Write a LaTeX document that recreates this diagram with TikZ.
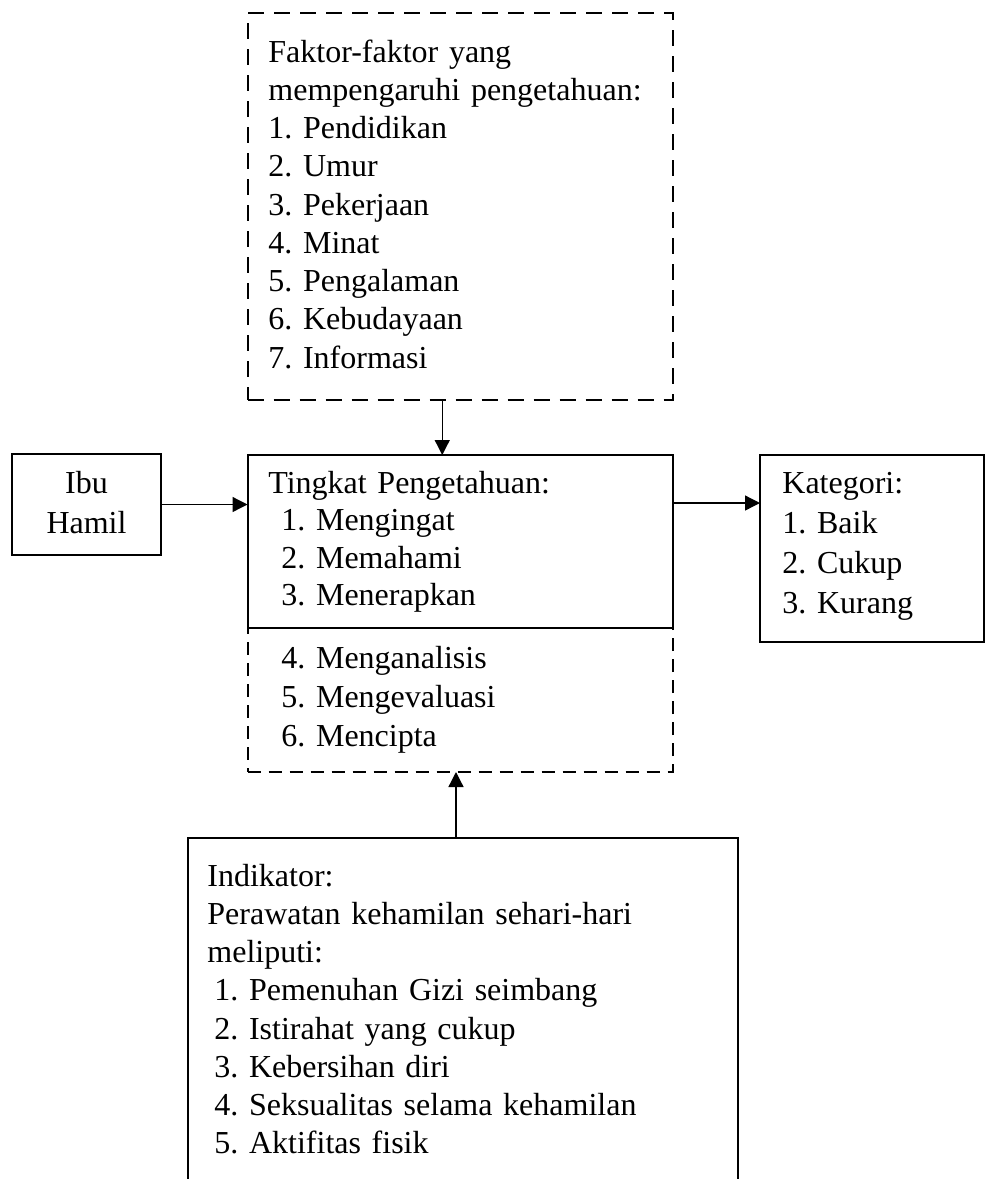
\documentclass[tikz,border=0pt]{standalone}
\usepackage{fontspec}
\setmainfont{Liberation Serif}
\usetikzlibrary{arrows.meta}
\begin{document}
\frenchspacing
\begin{tikzpicture}[x=0.5pt,y=-0.5pt,
  box/.style={draw, line width=1pt, inner sep=0pt, outer sep=0pt},
  dbox/.style={box, dash pattern=on 8pt off 5pt},
  dboxs/.style={box, dash pattern=on 6.5pt off 4pt},
  hidden/.style={inner sep=0pt, outer sep=0pt},
  txt/.style={anchor=base west, inner sep=0pt, align=left, text width=240pt},
  arr/.style={-{Triangle[length=7.5pt,width=7.5pt]}, line width=0.65pt}]
\useasboundingbox (0,0) rectangle (990,1179);

% boxes
\node[dbox, minimum width=212.75pt, minimum height=193.5pt] (fac) at (460.25,206.5) {};
\node[box, minimum width=74.5pt, minimum height=50.5pt] (ibu) at (86.5,504.5) {};
\node[dboxs, minimum width=212.5pt, minimum height=72pt] (tingb) at (460,700) {};
\node[box, fill=white, minimum width=212.5pt, minimum height=86.5pt] (ting) at (460,541.5) {};
\node[box, minimum width=112pt, minimum height=93.5pt] (kat) at (872,548.5) {};
\node[hidden, minimum width=275pt, minimum height=170.5pt] (ind) at (463,1008.5) {};
\draw[line width=1pt] (ind.south west) -- (ind.north west) -- (ind.north east) -- (ind.south east);

% texts
\node[txt, font=\fontsize{16pt}{19.125pt}\selectfont] (factxt) at (268,62) {Faktor-faktor yang\\
mempengaruhi pengetahuan:\\
1. Pendidikan\\
2. Umur\\
3. Pekerjaan\\
4. Minat\\
5. Pengalaman\\
6. Kebudayaan\\
7. Informasi};

\node[anchor=base, inner sep=0pt, align=center, text width=70pt, font=\fontsize{16pt}{20pt}\selectfont] (ibutxt) at (86.5,493) {Ibu\\ Hamil};

\node[txt, font=\fontsize{16pt}{18.75pt}\selectfont] (tingtxt) at (268,493) {Tingkat Pengetahuan:\\
\hspace*{6.5pt}1. Mengingat\\
\hspace*{6.5pt}2. Memahami\\
\hspace*{6.5pt}3. Menerapkan};

\node[txt, font=\fontsize{16pt}{19.5pt}\selectfont] (tingbtxt) at (268,668) {\hspace*{6.5pt}4. Menganalisis\\
\hspace*{6.5pt}5. Mengevaluasi\\
\hspace*{6.5pt}6. Mencipta};

\node[txt, text width=100pt, font=\fontsize{16pt}{20pt}\selectfont] (kattxt) at (782,493) {Kategori:\\
1. Baik\\
2. Cukup\\
3. Kurang};

\node[txt, font=\fontsize{16pt}{19.125pt}\selectfont] (indtxt) at (207,886) {Indikator:\\
Perawatan kehamilan sehari-hari\\
meliputi:\\
\hspace*{3.5pt}1. Pemenuhan Gizi seimbang\\
\hspace*{3.5pt}2. Istirahat yang cukup\\
\hspace*{3.5pt}3. Kebersihan diri\\
\hspace*{3.5pt}4. Seksualitas selama kehamilan\\
\hspace*{3.5pt}5. Aktifitas fisik};

% connectors
\coordinate (a1) at ([xshift=-9pt]fac.south);
\draw[arr] (a1) -- (a1 |- ting.north);
\draw[arr] (ibu.east) -- (ibu.east -| ting.west);
\coordinate (a3) at ([yshift=-24pt]ting.north east);
\draw[arr] (a3) -- (a3 -| kat.west);
\coordinate (a4) at ([xshift=-2pt]tingb.south);
\draw[arr] (a4 |- ind.north) -- (a4);
\end{tikzpicture}
\end{document}
